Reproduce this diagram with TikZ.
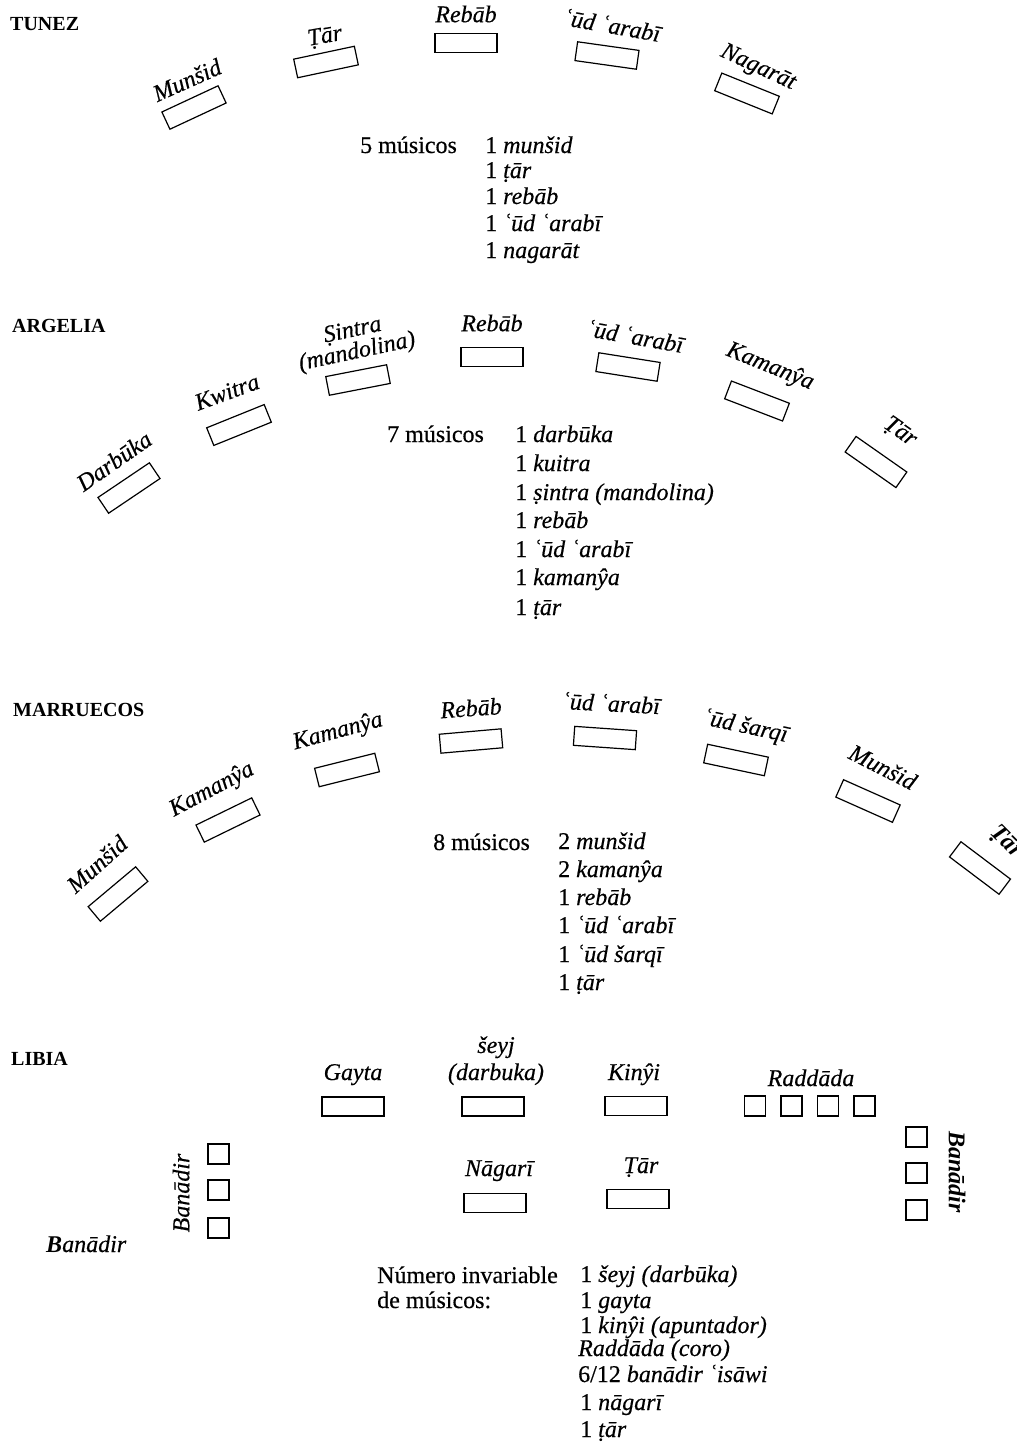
\documentclass[tikz,border=0pt]{standalone}
\usepackage{fontspec}
\setmainfont{Liberation Serif}[UprightFeatures={FakeBold=0.4}, ItalicFeatures={FakeBold=0.4}]
\tikzset{
  hdr/.style={font=\bfseries\fontsize{20}{24}\selectfont, anchor=base west, inner sep=0pt},
  lab/.style={font=\itshape\fontsize{24}{28}\selectfont, inner sep=0pt},
  labb/.style={lab, anchor=base},
  txt/.style={font=\fontsize{24}{28}\selectfont, anchor=base west, inner sep=0pt},
  inst/.style={draw, line width=1.2pt, minimum width=62pt, minimum height=19pt, inner sep=0pt},
  sq/.style={draw, line width=1.2pt, minimum width=21pt, minimum height=20pt, inner sep=0pt},
}
\begin{document}
\begin{tikzpicture}[x=1pt, y=-1pt]
\useasboundingbox (0,0) rectangle (1017,1444);
\fill[white] (0,0) rectangle (1017,1444);

% ---------------- TUNEZ ----------------
\node[hdr] (hT) at (10,30) {TUNEZ};
\node[inst, rotate=25] (t1) at (194,107.5) {};
\node[lab, rotate=24] (lt1) at (187,80) {Munšid};
\node[inst, rotate=12] (t2) at (326,62) {};
\node[lab, rotate=10] (lt2) at (325,37) {Ṭār};
\node[inst] (t3) at (466,43) {};
\node[lab] (lt3) at (466,14) {Rebāb};
\node[inst, rotate=-8] (t4) at (607,55.5) {};
\node[lab, rotate=-10] (lt4) at (612,25) {ʿūd ʿarabī};
\node[inst, rotate=-22] (t5) at (747,93.5) {};
\node[lab, rotate=-25] (lt5) at (758,68) {Nagarāt};
\node[txt] (nT) at (360,153) {5 músicos};
\node[txt] (T1) at (485,153) {1 \textit{munšid}};
\node[txt] (T2) at (485,178) {1 \textit{ṭār}};
\node[txt] (T3) at (485,204) {1 \textit{rebāb}};
\node[txt] (T4) at (485,231) {1 \textit{ʿūd ʿarabī}};
\node[txt] (T5) at (485,258) {1 \textit{nagarāt}};

% ---------------- ARGELIA ----------------
\node[hdr] (hA) at (12,332) {ARGELIA};
\node[inst, rotate=34] (a1) at (129,488) {};
\node[lab, rotate=35] (la1) at (114,461) {Darbūka};
\node[inst, rotate=22] (a2) at (239,425) {};
\node[lab, rotate=20] (la2) at (227,392) {Kwitra};
\node[inst, rotate=11] (a3) at (358,380) {};
\node[lab, rotate=12, align=center, font=\itshape\fontsize{24}{22}\selectfont] (la3) at (355,342) {Ṣintra\\(mandolina)};
\node[inst] (a4) at (492,357) {};
\node[lab] (la4) at (492,323) {Rebāb};
\node[inst, rotate=-9] (a5) at (628,367) {};
\node[lab, rotate=-10] (la5) at (635,336) {ʿūd ʿarabī};
\node[inst, rotate=-21] (a6) at (757,401) {};
\node[lab, rotate=-22] (la6) at (770,367) {Kamanŷa};
\node[inst, rotate=-35] (a7) at (876,462) {};
\node[lab, rotate=-35] (la7) at (900,432) {Ṭār};
\node[txt] (nA) at (387,442) {7 músicos};
\node[txt] (A1) at (515,442) {1 \textit{darbūka}};
\node[txt] (A2) at (515,471) {1 \textit{kuitra}};
\node[txt] (A3) at (515,500) {1 \textit{ṣintra (mandolina)}};
\node[txt] (A4) at (515,528) {1 \textit{rebāb}};
\node[txt] (A5) at (515,557) {1 \textit{ʿūd ʿarabī}};
\node[txt] (A6) at (515,585) {1 \textit{kamanŷa}};
\node[txt] (A7) at (515,615) {1 \textit{ṭār}};

% ---------------- MARRUECOS ----------------
\node[hdr] (hM) at (13,716) {MARRUECOS};
\node[inst, rotate=40] (m1) at (118,894) {};
\node[lab, rotate=42] (lm1) at (97,864) {Munšid};
\node[inst, rotate=26] (m2) at (228,820) {};
\node[lab, rotate=28] (lm2) at (212,790) {Kamanŷa};
\node[inst, rotate=14] (m3) at (347,770) {};
\node[lab, rotate=15] (lm3) at (338,732) {Kamanŷa};
\node[inst, rotate=5] (m4) at (471,741) {};
\node[lab, rotate=4] (lm4) at (471,708) {Rebāb};
\node[inst, rotate=-4] (m5) at (605,738) {};
\node[lab, rotate=-3] (lm5) at (611,703) {ʿūd ʿarabī};
\node[inst, rotate=-12] (m6) at (736,760) {};
\node[lab, rotate=-12] (lm6) at (745,727) {ʿūd šarqī};
\node[inst, rotate=-24] (m7) at (868,801) {};
\node[lab, rotate=-27] (lm7) at (883,767) {Munšid};
\node[inst, rotate=-37] (m8) at (980,868) {};
\node[lab, rotate=-45, font=\bfseries\itshape\fontsize{24}{28}\selectfont] (lm8) at (1006,842) {Ṭār};
\node[txt] (nM) at (433,850) {8 músicos};
\node[txt] (M1) at (558,849) {2 \textit{munšid}};
\node[txt] (M2) at (558,877) {2 \textit{kamanŷa}};
\node[txt] (M3) at (558,905) {1 \textit{rebāb}};
\node[txt] (M4) at (558,933) {1 \textit{ʿūd ʿarabī}};
\node[txt] (M5) at (558,962) {1 \textit{ʿūd šarqī}};
\node[txt] (M6) at (558,990) {1 \textit{ṭār}};

% ---------------- LIBIA ----------------
\node[hdr] (hL) at (11,1065) {LIBIA};
\node[inst] (l1) at (353,1106.5) {};
\node[labb] (ll1) at (353,1080) {Gayta};
\node[inst] (l2) at (493,1106.5) {};
\node[labb] (ll2a) at (496,1053) {šeyj};
\node[labb] (ll2b) at (496,1080) {(darbuka)};
\node[inst] (l3) at (636,1106) {};
\node[labb] (ll3) at (634,1080) {Kinŷi};
\node[labb] (ll4) at (811,1086) {Raddāda};
\node[sq] (r1) at (755,1106) {};
\node[sq] (r2) at (791.5,1106) {};
\node[sq] (r3) at (828,1106) {};
\node[sq] (r4) at (864.5,1106) {};
\node[sq] (bl1) at (218.5,1154) {};
\node[sq] (bl2) at (218.5,1190) {};
\node[sq] (bl3) at (218.5,1228) {};
\node[lab, rotate=90] (lbl) at (181,1193) {Banādir};
\node[sq] (br1) at (916.5,1137) {};
\node[sq] (br2) at (916.5,1173) {};
\node[sq] (br3) at (916.5,1210) {};
\node[lab, rotate=-90, font=\bfseries\itshape\fontsize{24}{28}\selectfont] (lbr) at (957,1172) {Banādir};
\node[txt, font=\itshape\fontsize{24}{28}\selectfont] (lbh) at (46,1252) {\textbf{B}anādir};
\node[labb] (ll5) at (499,1176) {Nāgarī};
\node[inst] (l5) at (495,1203) {};
\node[labb] (ll6) at (641,1173) {Ṭār};
\node[inst] (l6) at (638,1199) {};
\node[txt] (nL1) at (377,1283) {Número invariable};
\node[txt] (nL2) at (377,1308) {de músicos:};
\node[txt] (L1) at (580,1282) {1 \textit{šeyj (darbūka)}};
\node[txt] (L2) at (580,1308) {1 \textit{gayta}};
\node[txt] (L3) at (580,1333) {1 \textit{kinŷi (apuntador)}};
\node[txt] (L4) at (578,1356) {\textit{Raddāda (coro)}};
\node[txt] (L5) at (578,1382) {6/12 \textit{banādir ʿisāwi}};
\node[txt] (L6) at (580,1410) {1 \textit{nāgarī}};
\node[txt] (L7) at (580,1437) {1 \textit{ṭār}};
\end{tikzpicture}
\end{document}
